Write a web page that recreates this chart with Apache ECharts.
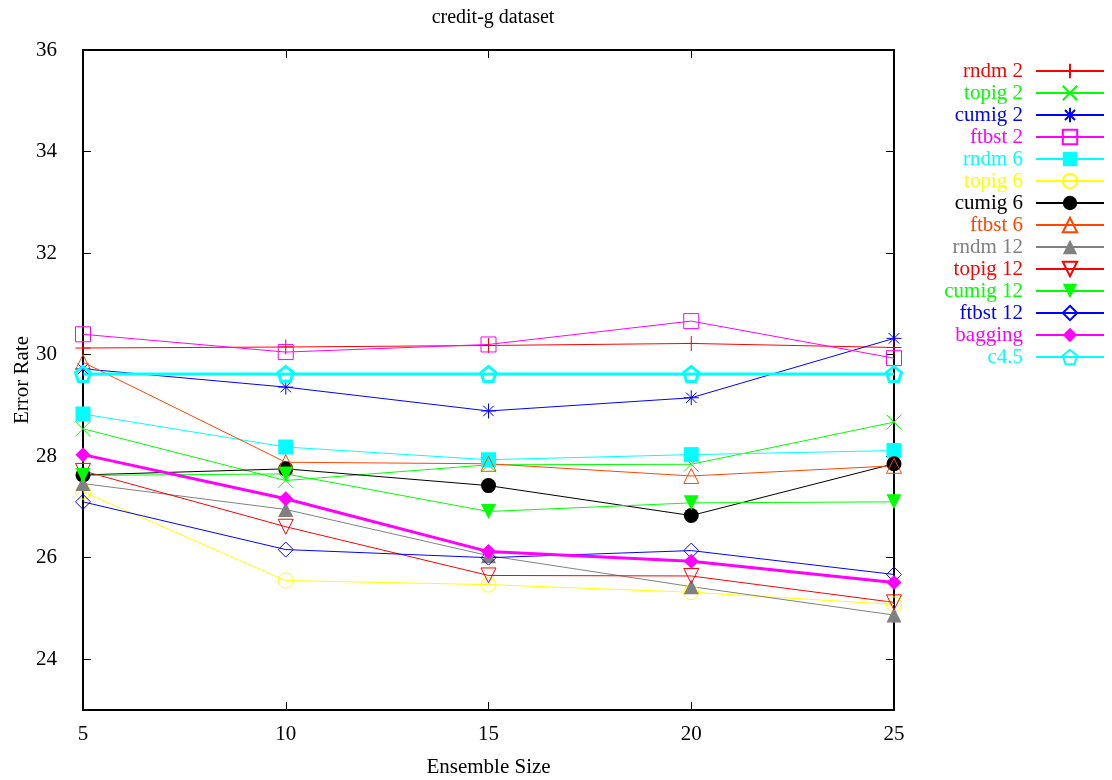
<!DOCTYPE html>
<html>
<head>
<meta charset="utf-8">
<script src="https://cdn.jsdelivr.net/npm/echarts@6/dist/echarts.min.js"></script>
<style>
html, body { margin: 0; padding: 0; background: #fff; }
#main { width: 1112px; height: 780px; }
</style>
</head>
<body>
<div id="main"></div>
<script>
var sizes = [5, 10, 15, 20, 25];
var yTicks = [24, 26, 28, 30, 32, 34, 36];

var rndm2   = [30.13, 30.15, 30.18, 30.22, 30.14];
var topig2  = [28.54, 27.52, 27.83, 27.84, 28.67];
var cumig2  = [29.72, 29.36, 28.89, 29.15, 30.32];
var ftbst2  = [30.40, 30.05, 30.20, 30.66, 29.93];
var rndm6   = [28.83, 28.18, 27.93, 28.03, 28.11];
var topig6  = [27.30, 25.55, 25.47, 25.32, 25.08];
var cumig6  = [27.63, 27.75, 27.42, 26.83, 27.85];
var ftbst6  = [29.85, 27.88, 27.85, 27.61, 27.81];
var rndm12  = [27.46, 26.95, 26.04, 25.43, 24.87];
var topig12 = [27.71, 26.61, 25.65, 25.64, 25.12];
var cumig12 = [27.62, 27.65, 26.91, 27.08, 27.10];
var ftbst12 = [27.10, 26.16, 26.00, 26.14, 25.67];
var bagging = [28.03, 27.16, 26.12, 25.93, 25.51];
var c45     = [29.62, 29.62, 29.62, 29.62, 29.62];

var PLUS = 'path://M5,0L5,10M0,5L10,5';
var CROSS = 'path://M0,0L10,10M10,0L0,10';
var STAR = 'path://M5,0L5,10M0,5L10,5M1.5,1.5L8.5,8.5M8.5,1.5L1.5,8.5';
var TRI_DOWN = 'path://M0,0L10,0L5,8.66Z';
var PENTAGON = 'path://M5,0L10,3.8L8.1,9.5L1.9,9.5L0,3.8Z';

// name, values, color, symbol, filled, line width
var defs = [
  ['rndm 2', rndm2, '#ff0000', PLUS, false, 1],
  ['topig 2', topig2, '#00ff00', CROSS, false, 1],
  ['cumig 2', cumig2, '#0000ff', STAR, false, 1],
  ['ftbst 2', ftbst2, '#ff00ff', 'rect', false, 1],
  ['rndm 6', rndm6, '#00ffff', 'rect', true, 1],
  ['topig 6', topig6, '#ffff00', 'circle', false, 1],
  ['cumig 6', cumig6, '#000000', 'circle', true, 1],
  ['ftbst 6', ftbst6, '#ff4500', 'triangle', false, 1],
  ['rndm 12', rndm12, '#808080', 'triangle', true, 1],
  ['topig 12', topig12, '#ff0000', TRI_DOWN, false, 1],
  ['cumig 12', cumig12, '#00ff00', TRI_DOWN, true, 1],
  ['ftbst 12', ftbst12, '#0000ff', 'diamond', false, 1],
  ['bagging', bagging, '#ff00ff', 'diamond', true, 3],
  ['c4.5', c45, '#00ffff', PENTAGON, false, 3]
];

var font = '"Liberation Serif", "DejaVu Serif", serif';

var series = defs.map(function (d) {
  return {
    name: d[0],
    type: 'line',
    data: sizes.map(function (x, i) { return [x, d[1][i]]; }),
    symbol: d[3],
    symbolSize: 15,
    showSymbol: true,
    clip: false,
    lineStyle: { color: d[2], width: d[5] },
    itemStyle: {
      color: d[4] ? d[2] : 'rgba(0,0,0,0)',
      borderColor: d[2],
      borderWidth: d[4] ? 0 : d[5]
    },
    emphasis: { disabled: true }
  };
});

var myChart = echarts.init(document.getElementById('main'));

var axisLine = { lineStyle: { color: '#000', width: 2 } };
var tick = { inside: true, length: 8, lineStyle: { color: '#000', width: 1 } };

var option = {
  animation: false,
  title: {
    text: 'credit-g dataset',
    left: 488,
    textAlign: 'center',
    top: 3,
    textStyle: { fontFamily: font, fontSize: 20, fontWeight: 'normal', color: '#000' }
  },
  legend: {
    orient: 'vertical',
    align: 'right',
    right: 7,
    top: 60,
    padding: 0,
    itemWidth: 68,
    itemHeight: 18,
    itemGap: 0,
    selectedMode: false,
    data: defs.map(function (d) {
      return { name: d[0], textStyle: { color: d[2] } };
    }),
    textStyle: { fontFamily: font, fontSize: 21, lineHeight: 22, padding: [0, 8, 0, 0] }
  },
  grid: { left: 83, right: 218, top: 50, bottom: 70, outerBoundsMode: 'none', containLabel: false },
  xAxis: [{
    type: 'value',
    min: 5, max: 25, interval: 5,
    name: 'Ensemble Size',
    nameLocation: 'middle',
    nameGap: 47,
    nameMoveOverlap: false,
    nameTextStyle: { fontFamily: font, fontSize: 21, color: '#000' },
    axisLine: axisLine,
    axisTick: tick,
    axisLabel: { margin: 14, fontFamily: font, fontSize: 21, color: '#000' },
    splitLine: { show: false }
  }, {
    type: 'value',
    position: 'top',
    min: 5, max: 25, interval: 5,
    axisLine: axisLine,
    axisTick: tick,
    axisLabel: { show: false },
    splitLine: { show: false }
  }],
  yAxis: [{
    type: 'value',
    min: 23, max: 36,
    name: 'Error Rate',
    nameLocation: 'middle',
    nameGap: 50,
    nameMoveOverlap: false,
    nameRotate: 90,
    nameTextStyle: { fontFamily: font, fontSize: 21, color: '#000' },
    axisLine: axisLine,
    axisTick: Object.assign({ customValues: yTicks }, tick),
    axisLabel: { customValues: yTicks, margin: 26, fontFamily: font, fontSize: 21, color: '#000' },
    splitLine: { show: false }
  }, {
    type: 'value',
    position: 'right',
    min: 23, max: 36,
    axisLine: axisLine,
    axisTick: Object.assign({ customValues: yTicks }, tick),
    axisLabel: { show: false },
    splitLine: { show: false }
  }],
  series: series
};

myChart.setOption(option);
</script>
</body>
</html>
